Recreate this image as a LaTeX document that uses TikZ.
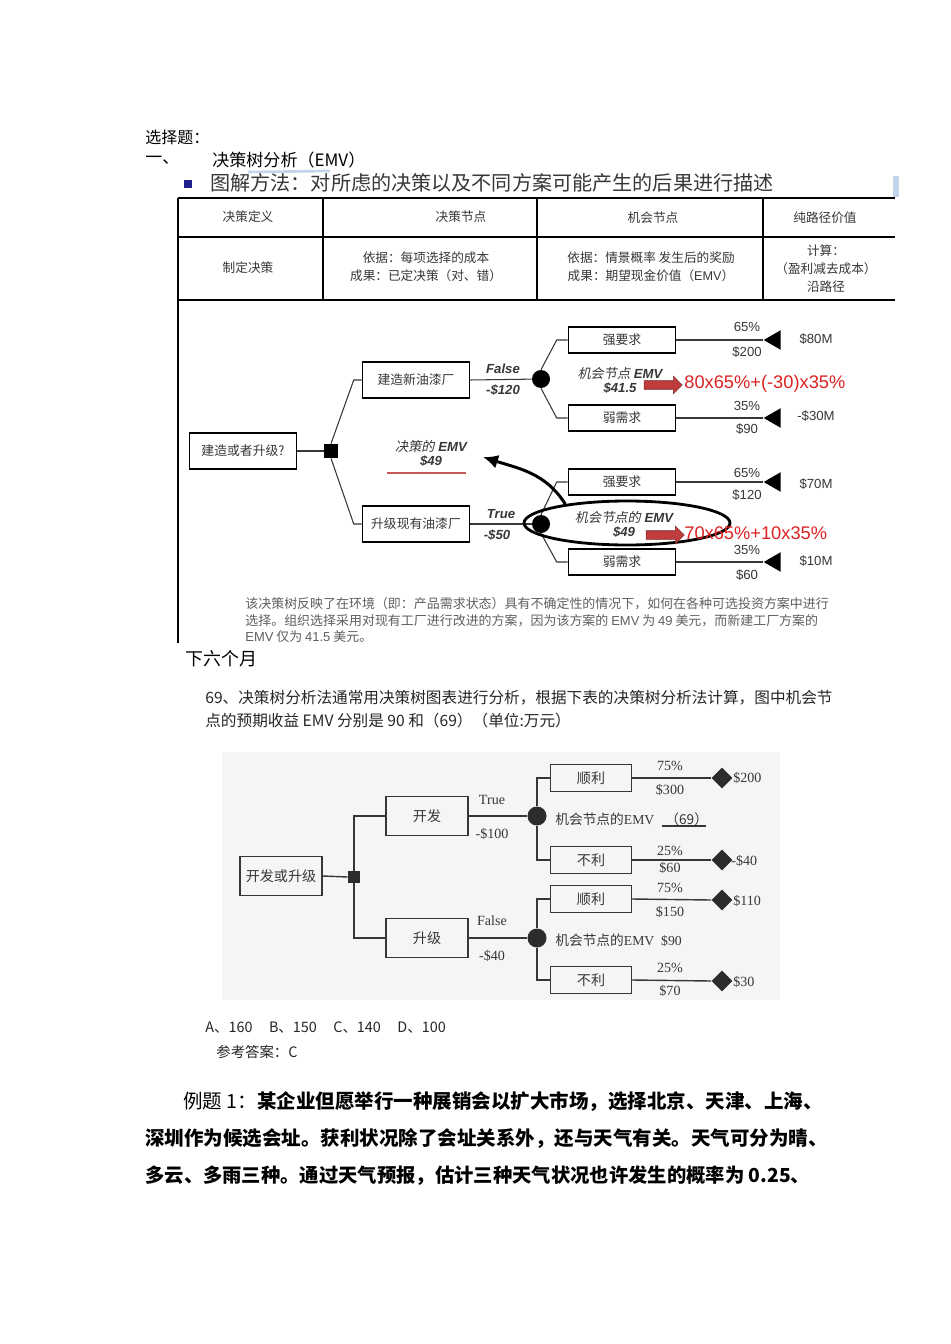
\documentclass[tikz,border=0pt]{standalone}
\usepackage{fontspec}
\setmainfont{Noto Sans CJK SC}
\newfontfamily\arialf{Liberation Sans}
\newfontfamily\timesf{Liberation Serif}
\newfontfamily\cjkit[FakeSlant=0.2]{Noto Sans CJK SC}
\usetikzlibrary{shapes.geometric, shapes.arrows, arrows.meta, positioning, calc}
\definecolor{ink}{RGB}{55,55,55}
\definecolor{softink}{RGB}{95,95,95}
\definecolor{navy}{RGB}{30,30,140}
\definecolor{redtxt}{RGB}{220,35,35}
\definecolor{redarr}{RGB}{190,60,60}
\definecolor{paleblue}{RGB}{195,212,235}
\definecolor{treebg}{RGB}{245,245,245}
\newcommand\fs[2]{\fontsize{#1pt}{#2pt}\selectfont}

\begin{document}
\begin{tikzpicture}[x=0.02cm, y=-0.02cm,
  txt/.style={inner sep=0pt, anchor=west},
  cell/.style={inner sep=0pt, align=center, text=ink, font=\fs{7.2}{10.2}},
  optbox/.style={draw=black, line width=0.9pt, minimum width=21.4mm, minimum height=7.2mm, inner sep=0pt, text=ink, font=\fs{7.3}{9}},
  statebox/.style={draw=black, line width=0.9pt, minimum width=21.4mm, minimum height=5.2mm, inner sep=0pt, text=ink, font=\fs{7.3}{9}},
  choice/.style={rectangle, fill=black, minimum size=2.8mm, inner sep=0pt},
  chance/.style={circle, fill=black, minimum size=3.6mm, inner sep=0pt},
  payoff/.style={isosceles triangle, shape border rotate=180, isosceles triangle apex angle=60, fill=black, minimum height=3.4mm, inner sep=0pt, anchor=apex},
  lbl/.style={inner sep=0pt, text=ink, font=\arialf\fs{7.5}{9}},
  blbl/.style={inner sep=0pt, text=ink, font=\arialf\fs{7.5}{9}\bfseries\itshape},
  redarrow/.style={single arrow, fill=redarr, draw=redarr!70!black, line width=0.3pt, minimum height=7.6mm, single arrow head extend=0.9mm, inner xsep=0pt, inner ysep=0.8mm},
  link/.style={draw=ink, line width=0.6pt},
  box2/.style={draw=ink, line width=0.8pt, minimum width=16.4mm, minimum height=7.8mm, inner sep=0pt, text=ink, font=\fs{8}{9}},
  state2/.style={draw=ink, line width=0.8pt, minimum width=16.2mm, minimum height=5.4mm, inner sep=0pt, text=ink, font=\fs{8}{9}},
  choice2/.style={rectangle, fill=ink!80!black, minimum size=2.4mm, inner sep=0pt},
  chance2/.style={circle, fill=ink!80!black, minimum size=3.8mm, inner sep=0pt},
  end2/.style={diamond, fill=ink!80!black, minimum size=4.2mm, inner sep=0pt},
  lbl2/.style={inner sep=0pt, text=ink, font=\timesf\fs{8}{9}},
  link2/.style={draw=ink, line width=0.8pt}
]
\useasboundingbox[fill=white] (0,0) rectangle (950,1344);

\node[txt, font=\fs{9.1}{10}] (title) at (145,137) {选择题：};
\node[txt, font=\fs{9.7}{10}] (secno) at (145,160) {一、};
\node[txt, font=\fs{9.7}{10}] (sectitle) at (212,160) {决策树分析（EMV）};
\draw[paleblue, line width=1.5pt] (248,172) -- (330,171);
\fill[navy] (184,180) rectangle (192,188);
\node[txt, text=ink, font=\fs{11.45}{12}] (method) at (210,183) {图解方法：对所虑的决策以及不同方案可能产生的后果进行描述};
\fill[paleblue] (893,176) rectangle (899,197);

\draw[line width=1.1pt] (178,198) -- (895,198) (178,237) -- (895,237) (178,300) -- (895,300);
\draw[line width=1.1pt] (323,198) -- (323,300) (537,198) -- (537,300) (763,198) -- (763,300);
\draw[line width=0.8pt] (178,198) -- (178,643);
\node[cell] (h1) at (248,217) {决策定义};
\node[cell] (h2) at (461,217) {决策节点};
\node[cell] (h3) at (653,218) {机会节点};
\node[cell] (h4) at (825,218) {纯路径价值};
\node[cell] (r1) at (248,268) {制定决策};
\node[cell] (r2) at (426,267) {依据：每项选择的成本\\成果：已定决策（对、错）};
\node[cell] (r3) at (651,267) {依据：情景概率 发生后的奖励\\成果：期望现金价值（{\arialf EMV}）};
\node[cell] (r4) at (826,269) {计算：\\（盈利减去成本）\\沿路径};

\node[optbox] (root1) at (243,451) {建造或者升级?};
\node[choice] (dec1) at (331,451) {};
\node[optbox] (newp) at (416,380) {建造新油漆厂};
\node[optbox] (upg) at (416,524) {升级现有油漆厂};
\node[chance] (ch1) at (541,379) {};
\node[chance] (ch2) at (541,524) {};
\node[statebox] (s1) at (622,340) {强要求};
\node[statebox] (w1) at (622,418) {弱需求};
\node[statebox] (s2) at (622,482) {强要求};
\node[statebox] (w2) at (622,562) {弱需求};
\node[payoff] (t1) at (763,340) {};
\node[payoff] (t2) at (763,418) {};
\node[payoff] (t3) at (763,482) {};
\node[payoff] (t4) at (763,562) {};

\draw[link] (root1) -- (dec1);
\draw[link] (dec1.north) -- ($(newp.west)+(-8,0)$) -- (newp.west);
\draw[link] (dec1.south) -- ($(upg.west)+(-8,0)$) -- (upg.west);
\draw[link] (newp.east) -- (ch1);
\draw[link] (upg.east) -- (ch2);
\draw[link] (ch1.north) -- ($(s1.west)+(-11,0)$) -- (s1.west);
\draw[link] (ch1.south) -- ($(w1.west)+(-11,0)$) -- (w1.west);
\draw[link] (ch2.north) -- ($(s2.west)+(-11,0)$) -- (s2.west);
\draw[link] (ch2.south) -- ($(w2.west)+(-11,0)$) -- (w2.west);
\draw[link] (s1.east) -- (t1.apex);
\draw[link] (w1.east) -- (t2.apex);
\draw[link] (s2.east) -- (t3.apex);
\draw[link] (w2.east) -- (t4.apex);

\node[blbl] (f1) at (503,369) {False};
\node[blbl] (c1) at (503,390) {-\$120};
\node[blbl] (f2) at (501,514) {True};
\node[blbl] (c2) at (497,535) {-\$50};
\node[lbl] (p1) at (747,327) {65\%};
\node[lbl] (v1) at (747,352) {\$200};
\node[lbl] (p2) at (747,406) {35\%};
\node[lbl] (v2) at (747,429) {\$90};
\node[lbl] (p3) at (747,473) {65\%};
\node[lbl] (v3) at (747,495) {\$120};
\node[lbl] (p4) at (747,550) {35\%};
\node[lbl] (v4) at (747,575) {\$60};
\node[lbl] (o1) at (816,339) {\$80M};
\node[lbl] (o2) at (816,416) {-\$30M};
\node[lbl] (o3) at (816,484) {\$70M};
\node[lbl] (o4) at (816,561) {\$10M};

\node[blbl] (emv1) at (620,373) {{\cjkit\mdseries 机会节点} EMV};
\node[blbl] (emv1v) at (620,388) {\$41.5};
\node[redarrow] (arr1) at (661,385) {};
\node[txt, text=redtxt, font=\arialf\fs{10.4}{11}] (calc1) at (684,384) {80x65\%+(-30)x35\%};

\node[blbl] (decemv) at (431,446) {{\cjkit\mdseries 决策的} EMV};
\node[blbl] (decemvv) at (431,461) {\$49};
\draw[redarr!85, line width=1.3pt] (387,473) -- (466,473);

\node[ellipse, draw, line width=1.6pt, minimum width=41.2mm, minimum height=8.8mm, inner sep=0pt] (emvring) at (627,523) {};
\node[blbl] (emv2) at (624,517) {{\cjkit\mdseries 机会节点的} EMV};
\node[blbl] (emv2v) at (624,532) {\$49};
\node[redarrow] (arr2) at (663,535) {};
\node[txt, text=redtxt, font=\arialf\fs{10.4}{11}] (calc2) at (684,533) {70x65\%+10x35\%};
\coordinate (emvtip) at (483,457);
\draw[-{Latex[length=3mm,width=2.8mm]}, line width=1.7pt] (emvring.163) to[out=122, in=-18] (emvtip);

\node[txt, text=softink, font=\fs{7.38}{9}] (para1) at (245,604) {该决策树反映了在环境（即：产品需求状态）具有不确定性的情况下，如何在各种可选投资方案中进行};
\node[txt, text=softink, font=\fs{7.38}{9}] (para2) at (245,621) {选择。组织选择采用对现有工厂进行改进的方案，因为该方案的 {\arialf EMV} 为 {\arialf 49} 美元，而新建工厂方案的};
\node[txt, text=softink, font=\fs{7.38}{9}] (para3) at (245,637) {{\arialf EMV} 仅为 {\arialf 41.5} 美元。};

\node[txt, font=\fs{10.2}{11}] (next) at (185,659) {下六个月};
\node[txt, text=black!85, font=\fs{8.9}{10}] (q1) at (205,698) {69、决策树分析法通常用决策树图表进行分析，根据下表的决策树分析法计算，图中机会节};
\node[txt, text=black!85, font=\fs{8.9}{10}] (q2) at (205,721) {点的预期收益 EMV 分别是 90 和（69）（单位:万元）};

\fill[treebg] (222,752) rectangle (780,1000);
\node[box2] (root2) at (281,876) {开发或升级};
\node[choice2] (dec2) at (354,877) {};
\node[box2] (dev) at (427,816) {开发};
\node[box2] (upg2) at (427,938) {升级};
\node[chance2] (ch3) at (537,816) {};
\node[chance2] (ch4) at (537,938) {};
\node[state2] (g1) at (591,778) {顺利};
\node[state2] (b1) at (591,860) {不利};
\node[state2] (g2) at (591,899) {顺利};
\node[state2] (b2) at (591,980) {不利};
\node[end2] (d1) at (722,778) {};
\node[end2] (d2) at (722,860) {};
\node[end2] (d3) at (722,900) {};
\node[end2] (d4) at (722,981) {};

\draw[link2] (root2.east) -- (dec2.west);
\draw[link2] (dec2.north) |- (dev.west);
\draw[link2] (dec2.south) |- (upg2.west);
\draw[link2] (dev.east) -- (ch3);
\draw[link2] (upg2.east) -- (ch4);
\draw[link2] (ch3) |- (g1.west);
\draw[link2] (ch3) |- (b1.west);
\draw[link2] (ch4) |- (g2.west);
\draw[link2] (ch4) |- (b2.west);
\draw[link2] (g1.east) -- (d1.west);
\draw[link2] (b1.east) -- (d2.west);
\draw[link2] (g2.east) -- (d3.west);
\draw[link2] (b2.east) -- (d4.west);

\node[lbl2] (tt) at (492,800) {True};
\node[lbl2] (tc) at (492,834) {-\$100};
\node[lbl2] (ff) at (492,921) {False};
\node[lbl2] (fc) at (492,956) {-\$40};
\node[lbl2] (q75a) at (670,766) {75\%};
\node[lbl2] (q300) at (670,790) {\$300};
\node[lbl2] (q25a) at (670,851) {25\%};
\node[lbl2] (q60) at (670,868) {\$60};
\node[lbl2] (q75b) at (670,888) {75\%};
\node[lbl2] (q150) at (670,912) {\$150};
\node[lbl2] (q25b) at (670,968) {25\%};
\node[lbl2] (q70) at (670,991) {\$70};
\node[lbl2, anchor=west] (e1) at (733,778) {\$200};
\node[lbl2, anchor=west] (e2) at (731,861) {-\$40};
\node[lbl2, anchor=west] (e3) at (733,901) {\$110};
\node[lbl2, anchor=west] (e4) at (733,982) {\$30};
\node[txt, text=ink, font=\fs{7.8}{9}] (emv3) at (555,819) {机会节点的{\timesf EMV}};
\node[txt, text=ink, font=\fs{7.8}{9}] (emv3v) at (665,819) {（69）};
\draw[ink, line width=0.6pt] (662,826) -- (706,826);
\node[txt, text=ink, font=\fs{7.8}{9}] (emv4) at (555,940) {机会节点的{\timesf EMV\ \ \$90}};

\node[txt, text=black!85, font=\fs{8.2}{9}] (opts) at (205,1028) {A、160\hspace{3.3mm}B、150\hspace{3.3mm}C、140\hspace{3.3mm}D、100};
\node[txt, text=black!85, font=\fs{8.2}{9}] (ans) at (216,1052) {参考答案：C};
\node[txt, font=\fs{11.1}{12}] (ex1) at (183,1102) {例题 1：{\bfseries 某企业但愿举行一种展销会以扩大市场，选择北京、天津、上海、}};
\node[txt, font=\fs{11.1}{12}\bfseries] (ex2) at (145,1139) {深圳作为候选会址。获利状况除了会址关系外，还与天气有关。天气可分为晴、};
\node[txt, font=\fs{11.0}{12}\bfseries] (ex3) at (145,1176) {多云、多雨三种。通过天气预报，估计三种天气状况也许发生的概率为 0.25、};
\end{tikzpicture}
\end{document}
